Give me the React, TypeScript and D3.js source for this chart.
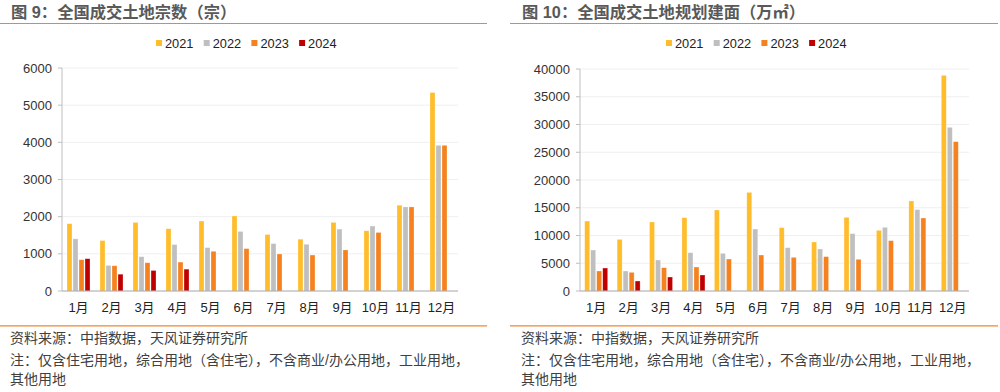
import React from "react";
import * as d3 from "d3";

const months = ["1月", "2月", "3月", "4月", "5月", "6月", "7月", "8月", "9月", "10月", "11月", "12月"];
const seriesNames = ["2021", "2022", "2023", "2024"];
const seriesColors = ["#FFBC2B", "#BFBFBF", "#F5821F", "#C00000"];

const count2021 = [1810, 1357, 1846, 1674, 1882, 2018, 1520, 1394, 1846, 1620, 2308, 5340];
const count2022 = [1403, 688, 923, 1249, 1167, 1602, 1276, 1258, 1665, 1747, 2262, 3920];
const count2023 = [842, 679, 760, 778, 1068, 1140, 995, 968, 1104, 1575, 2262, 3920];
const count2024 = [869, 452, 552, 588];
const countTicks = [0, 1000, 2000, 3000, 4000, 5000, 6000];

const area2021 = [12600, 9300, 12430, 13200, 14590, 17770, 11410, 8830, 13270, 10930, 16220, 38860];
const area2022 = [7380, 3600, 5580, 6900, 6780, 11160, 7810, 7570, 10330, 11470, 14660, 29490];
const area2023 = [3600, 3360, 4200, 4320, 5760, 6480, 6070, 6190, 5710, 9070, 13150, 26910];
const area2024 = [4140, 1800, 2520, 2880];
const areaTicks = [0, 5000, 10000, 15000, 20000, 25000, 30000, 35000, 40000];

const FONT = "'Liberation Sans', Arial, 'Noto Sans CJK SC', sans-serif";
const ORANGE = "#EE8533";

type PanelProps = {
  title: string;
  lineX0: number;
  lineX1: number;
  titleX: number;
  plotX0: number;
  plotX1: number;
  yTop: number;
  yBottom: number;
  ticks: number[];
  data: number[][];
  legendX: number;
};

function Panel(p: PanelProps) {
  const maxV = p.ticks[p.ticks.length - 1];
  const y = d3.scaleLinear().domain([0, maxV]).range([p.yBottom, p.yTop]);
  const x = d3.scaleBand<string>().domain(months).range([p.plotX0, p.plotX1]).paddingInner(0).paddingOuter(0);
  const groupW = 23;
  const xi = d3.scaleBand<string>().domain(seriesNames).range([0, groupW]).paddingInner(0.17).paddingOuter(0);
  const off = (x.bandwidth() - groupW) / 2;
  const legendStep = 47.7;
  return (
    <g>
      <text x={p.titleX} y={12} dominantBaseline="central" fontSize={16.3} fontWeight="bold" fill="#595959" fontFamily={FONT}>
        {p.title}
      </text>
      <line x1={p.lineX0} x2={p.lineX1} y1={23.5} y2={23.5} stroke={ORANGE} strokeWidth={1.2} />
      {seriesNames.map((s, i) => (
        <g key={s} transform={`translate(${p.legendX + i * legendStep},0)`}>
          <rect x={0} y={40} width={6} height={6} fill={seriesColors[i]} />
          <text x={9} y={43.5} dominantBaseline="central" fontSize={12.8} fill="#222" fontFamily={FONT}>
            {s}
          </text>
        </g>
      ))}
      {p.ticks.map((t) => (
        <g key={t}>
          {t > 0 && (
            <line x1={p.plotX0} x2={p.plotX1} y1={y(t)} y2={y(t)} stroke="#EFEFEF" strokeWidth={1} />
          )}
          <line x1={p.plotX0 - 4} x2={p.plotX0} y1={y(t)} y2={y(t)} stroke="#BFBFBF" strokeWidth={1} />
          <text x={p.plotX0 - 10} y={y(t)} textAnchor="end" dominantBaseline="central" fontSize={13} fill="#333" fontFamily={FONT}>
            {t}
          </text>
        </g>
      ))}
      <line x1={p.plotX0} x2={p.plotX0} y1={p.yTop} y2={p.yBottom} stroke="#BFBFBF" strokeWidth={1} />
      {p.data.map((vals, si) =>
        vals.map((v, mi) => {
          const bx = (x(months[mi]) as number) + off + (xi(seriesNames[si]) as number);
          return (
            <rect
              key={`${si}-${mi}`}
              x={bx}
              y={y(v)}
              width={xi.bandwidth()}
              height={p.yBottom - y(v)}
              fill={seriesColors[si]}
              stroke="#ffffff"
              strokeOpacity={0.45}
              strokeWidth={0.6}
            />
          );
        })
      )}
      <line x1={p.plotX0} x2={p.plotX1} y1={p.yBottom} y2={p.yBottom} stroke="#A6A6A6" strokeWidth={1.2} />
      {months.map((m) => (
        <text
          key={m}
          x={(x(m) as number) + x.bandwidth() / 2}
          y={307.5}
          textAnchor="middle"
          dominantBaseline="central"
          fontSize={13}
          fill="#222"
          fontFamily={FONT}
        >
          {m}
        </text>
      ))}
      <line x1={p.lineX0} x2={p.lineX1} y1={325.8} y2={325.8} stroke={ORANGE} strokeWidth={1.2} />
      <g fontSize={14} fill="#404040" fontFamily={FONT}>
        <text x={p.titleX - 1} y={337.5} dominantBaseline="central">资料来源：中指数据，天风证券研究所</text>
        <text x={p.titleX - 1} y={359.5} dominantBaseline="central">注：仅含住宅用地，综合用地（含住宅），不含商业/办公用地，工业用地，</text>
        <text x={p.titleX - 1} y={378.5} dominantBaseline="central">其他用地</text>
      </g>
    </g>
  );
}

export default function App() {
  return (
    <svg
      width={1000}
      height={392}
      style={{ position: "absolute", left: 0, top: 0, background: "#fff" }}
      xmlns="http://www.w3.org/2000/svg"
    >
      <rect x={0} y={0} width={1000} height={392} fill="#fff" />
      <Panel
        title="图 9：全国成交土地宗数（宗）"
        lineX0={0}
        lineX1={487}
        titleX={11}
        plotX0={62}
        plotX1={458}
        yTop={68}
        yBottom={291}
        ticks={countTicks}
        data={[count2021, count2022, count2023, count2024]}
        legendX={156}
      />
      <Panel
        title="图 10：全国成交土地规划建面（万㎡）"
        lineX0={510}
        lineX1={998}
        titleX={522}
        plotX0={580}
        plotX1={969}
        yTop={69}
        yBottom={291}
        ticks={areaTicks}
        data={[area2021, area2022, area2023, area2024]}
        legendX={666}
      />
    </svg>
  );
}
